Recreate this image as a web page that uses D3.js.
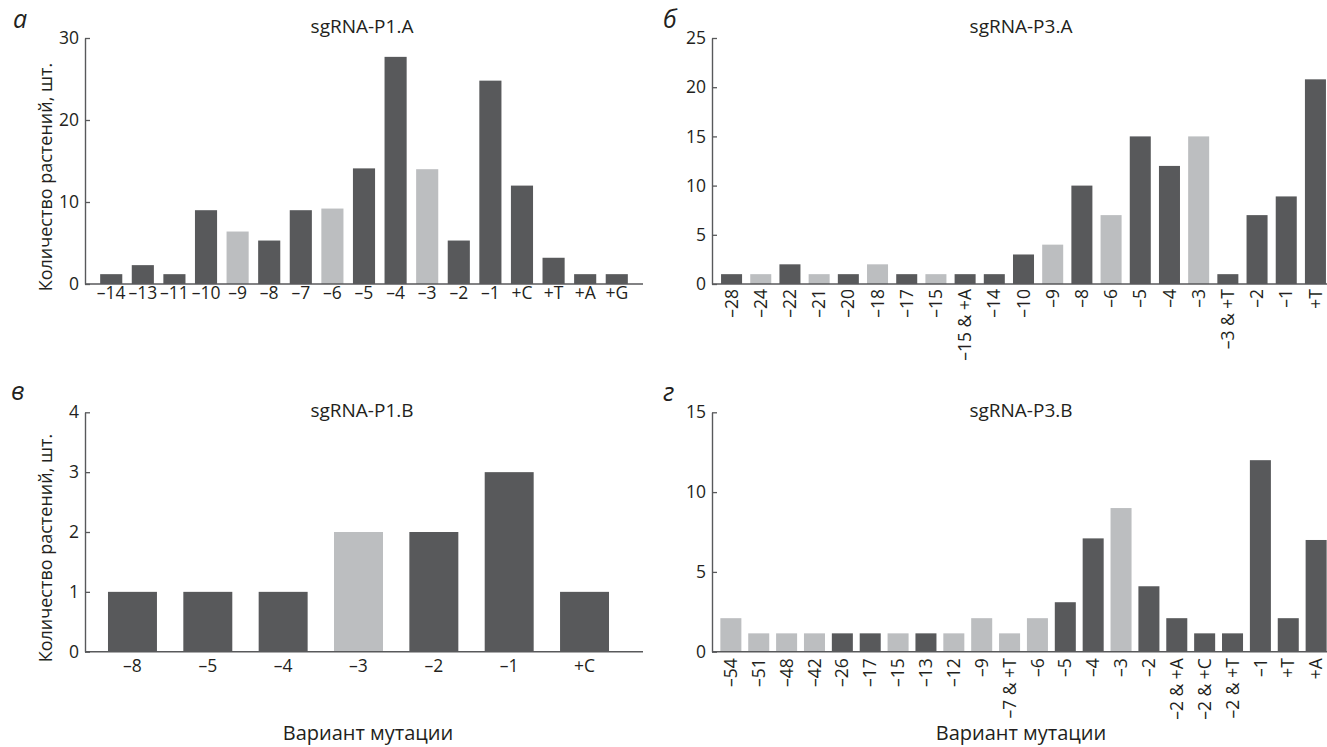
<!DOCTYPE html>
<html>
<meta charset="utf-8">
<title>Варианты мутаций</title>
<style>
body {
  margin: 0;
  background: #fff;
  font-family: "Open Sans", sans-serif;
}

svg text {
  fill: #231f20;
}

.domain, .base {
  fill: none;
  stroke: #58595b;
  stroke-width: 1.4px;
}

.tick line {
  stroke: #58595b;
  stroke-width: 1.3px;
}

.tick text, .xlab {
  font-size: 17.5px;
}

.title {
  font-size: 19px;
}

.letter {
  font-size: 25px;
  font-style: italic;
}

.ytitle {
  font-size: 18px;
}

.xtitle {
  font-size: 20px;
}
</style>
<body>
<div id="chart"></div>
<script src="https://cdn.jsdelivr.net/npm/d3@7"></script>
<script>

// sgRNA-P1.A
var catsA = ["–14", "–13", "–11", "–10", "–9", "–8", "–7", "–6", "–5", "–4", "–3", "–2", "–1", "+C", "+T", "+A", "+G"];
var valsA = [1.2, 2.3, 1.2, 9, 6.4, 5.3, 9, 9.2, 14.1, 27.7, 14, 5.3, 24.8, 12, 3.2, 1.2, 1.2];
var lightA = ["–9", "–6", "–3"];

// sgRNA-P3.A
var catsB = ["–28", "–24", "–22", "–21", "–20", "–18", "–17", "–15", "–15 & +A", "–14", "–10", "–9", "–8", "–6", "–5", "–4", "–3", "–3 & +T", "–2", "–1", "+T"];
var valsB = [1, 1, 2, 1, 1, 2, 1, 1, 1, 1, 3, 4, 10, 7, 15, 12, 15, 1, 7, 8.9, 20.8];
var lightB = ["–24", "–21", "–18", "–15", "–9", "–6", "–3"];

// sgRNA-P1.B
var catsC = ["–8", "–5", "–4", "–3", "–2", "–1", "+C"];
var valsC = [1, 1, 1, 2, 2, 3, 1];
var lightC = ["–3"];

// sgRNA-P3.B
var catsD = ["–54", "–51", "–48", "–42", "–26", "–17", "–15", "–13", "–12", "–9", "–7 & +T", "–6", "–5", "–4", "–3", "–2", "–2 & +A", "–2 & +C", "–2 & +T", "–1", "+T", "+A"];
var valsD = [2.1, 1.15, 1.15, 1.15, 1.15, 1.15, 1.15, 1.15, 1.15, 2.1, 1.15, 2.1, 3.1, 7.1, 9, 4.1, 2.1, 1.15, 1.15, 12, 2.1, 7];
var lightD = ["–54", "–51", "–48", "–42", "–15", "–12", "–9", "–7 & +T", "–6", "–3"];

var dark = "#58595b",
  light = "#bcbec0";

var width = 1327,
  height = 747;

var svg = d3.select("#chart").append("svg")
  .attr("width", width)
  .attr("height", height);

function drawPanel(p) {
  var x = d3.scaleBand()
    .domain(p.cats)
    .range(p.xRange)
    .paddingInner(p.pi)
    .paddingOuter(p.po);

  var y = d3.scaleLinear()
    .domain([0, p.yMax])
    .range(p.yRange);

  var g = svg.append("g");

  g.selectAll(".bar")
    .data(p.cats)
    .enter().append("rect")
    .attr("class", "bar")
    .attr("x", function(d) { return x(d); })
    .attr("width", x.bandwidth())
    .attr("y", function(d, i) { return y(p.vals[i]); })
    .attr("height", function(d, i) { return y(0) - y(p.vals[i]); })
    .style("fill", function(d) {
      return p.light.indexOf(d) >= 0 ? light : dark;
    });

  g.append("line")
    .attr("class", "base")
    .attr("x1", p.xRange[0])
    .attr("x2", p.axisEnd)
    .attr("y1", y(0))
    .attr("y2", y(0));

  var yAxis = g.append("g")
    .attr("transform", "translate(" + p.xRange[0] + ",0)")
    .call(d3.axisLeft(y)
      .tickValues(p.ticks)
      .tickFormat(d3.format("d"))
      .tickSizeInner(-5)
      .tickSizeOuter(0)
      .tickPadding(6));
  yAxis.attr("font-size", null).attr("font-family", null);

  var lab = g.selectAll(".xlab")
    .data(p.cats)
    .enter().append("text")
    .attr("class", "xlab")
    .text(function(d) { return d; });

  if (p.rotate) {
    lab.attr("transform", function(d) {
        return "translate(" + (x(d) + x.bandwidth() / 2) + "," + (y(0) + p.labOff) + ") rotate(-90)";
      })
      .attr("dy", ".35em")
      .attr("text-anchor", "end");
  } else {
    lab.attr("x", function(d) { return x(d) + x.bandwidth() / 2; })
      .attr("y", y(0) + p.labOff)
      .attr("text-anchor", "middle");
  }

  g.append("text")
    .attr("class", "title")
    .attr("x", p.titleX)
    .attr("y", p.titleY)
    .attr("text-anchor", "middle")
    .text(p.title);

  g.append("text")
    .attr("class", "letter")
    .attr("x", p.letterX)
    .attr("y", p.letterY)
    .text(p.letter);

  if (p.yTitle) {
    g.append("text")
      .attr("class", "ytitle")
      .attr("transform", "translate(52," + ((p.yRange[0] + p.yRange[1]) / 2 + 16) + ") rotate(-90)")
      .attr("text-anchor", "middle")
      .text("Количество растений, шт.");
  }

  if (p.xTitle) {
    g.append("text")
      .attr("class", "xtitle")
      .attr("x", p.xTitleX)
      .attr("y", 740)
      .attr("text-anchor", "middle")
      .text("Вариант мутации");
  }
}

drawPanel({
  cats: catsA, vals: valsA, light: lightA,
  xRange: [85, 643], axisEnd: 643, pi: 0.3, po: 0.48,
  yMax: 30, yRange: [284, 38], ticks: [0, 10, 20, 30],
  rotate: false, labOff: 15,
  title: "sgRNA-P1.A", titleX: 362, titleY: 33,
  letter: "а", letterX: 13, letterY: 28,
  yTitle: true
});

drawPanel({
  cats: catsB, vals: valsB, light: lightB,
  xRange: [712, 1335], axisEnd: 1335, pi: 0.28, po: 0.31,
  yMax: 25, yRange: [284, 38], ticks: [0, 5, 10, 15, 20, 25],
  rotate: true, labOff: 5,
  title: "sgRNA-P3.A", titleX: 1021, titleY: 33,
  letter: "б", letterX: 663, letterY: 28
});

drawPanel({
  cats: catsC, vals: valsC, light: lightC,
  xRange: [85, 632], axisEnd: 643, pi: 0.35, po: 0.305,
  yMax: 4, yRange: [651.7, 412.3], ticks: [0, 1, 2, 3, 4],
  rotate: false, labOff: 20,
  title: "sgRNA-P1.B", titleX: 362, titleY: 417,
  letter: "в", letterX: 11, letterY: 400,
  yTitle: true, xTitle: true, xTitleX: 368
});

drawPanel({
  cats: catsD, vals: valsD, light: lightD,
  xRange: [712, 1335], axisEnd: 1335, pi: 0.246, po: 0.3,
  yMax: 15, yRange: [651.7, 412.3], ticks: [0, 5, 10, 15],
  rotate: true, labOff: 6.5,
  title: "sgRNA-P3.B", titleX: 1021, titleY: 417,
  letter: "г", letterX: 663, letterY: 401,
  xTitle: true, xTitleX: 1021
});

</script>
</body>
</html>
